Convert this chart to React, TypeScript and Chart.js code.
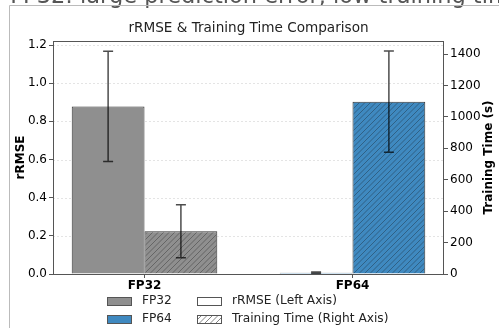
import React, { useEffect, useRef } from 'react';
import { Chart, registerables } from 'chart.js';

Chart.register(...registerables);

// ---- data ----
const categories = ['FP32', 'FP64'];
const rrmseMean = [0.878, 0.007];
const rrmseStd = [0.289, 0.003];
const timeMean = [272, 1097];
const timeStd = [168, 322];
const rrmseTicks = [0, 0.2, 0.4, 0.6, 0.8, 1.0, 1.2];
const timeTicks = [0, 200, 400, 600, 800, 1000, 1200, 1400];
const rrmseMax = 1.221;
const timeMax = 1483;
const xMin = -0.44;
const xMax = 1.44;

const headerLead = 'FP32: ';
const headerRest = 'large prediction error, low training time';
const titleText = 'rRMSE & Training Time Comparison';
const leftAxisTitle = 'rRMSE';
const rightAxisTitle = 'Training Time (s)';
const legendItems = [
  { label: 'FP32', kind: 'fp32' },
  { label: 'FP64', kind: 'fp64' },
  { label: 'rRMSE (Left Axis)', kind: 'plain' },
  { label: 'Training Time (Right Axis)', kind: 'hatch' },
];

// ---- styles ----
const W = 499;
const H = 328;
const FONT = "'DejaVu Sans', sans-serif";
const catColors = ['#8f8f8f', '#3f89c0'];
const edgeColor = '#333333';
const spineColor = '#555555';

function hatchPattern(bg: string, ink: string, lw: number): CanvasPattern {
  const s = 11;
  const c = document.createElement('canvas');
  c.width = s;
  c.height = s;
  const g = c.getContext('2d')!;
  g.fillStyle = bg;
  g.fillRect(0, 0, s, s);
  g.strokeStyle = ink;
  g.lineWidth = lw;
  for (const k of [0, 5.5, 11, 16.5, 22]) {
    g.beginPath();
    g.moveTo(k + 2, -2);
    g.lineTo(-2, k + 2);
    g.stroke();
  }
  return g.createPattern(c, 'repeat')!;
}

const decorations = {
  id: 'decorations',
  beforeDraw(chart: any) {
    const { ctx } = chart;
    ctx.save();
    ctx.fillStyle = '#ffffff';
    ctx.fillRect(0, 0, W, H);

    // heading text running off the top edge
    ctx.fillStyle = '#555555';
    ctx.font = `22.5px ${FONT}`;
    ctx.textAlign = 'left';
    ctx.textBaseline = 'alphabetic';
    const hx = 80 - ctx.measureText(headerLead).width;
    ctx.fillText(headerLead + headerRest, hx, 3);

    // panel frame
    ctx.strokeStyle = '#bbbbbb';
    ctx.lineWidth = 1;
    ctx.beginPath();
    ctx.moveTo(9.5, H);
    ctx.lineTo(9.5, 5.5);
    ctx.lineTo(W, 5.5);
    ctx.stroke();
    ctx.restore();
  },
  beforeDatasetsDraw(chart: any) {
    const { ctx, chartArea } = chart;
    const y = chart.scales.y;
    ctx.save();
    ctx.strokeStyle = '#dddddd';
    ctx.lineWidth = 0.8;
    ctx.setLineDash([2, 2]);
    for (const v of rrmseTicks) {
      const py = Math.round(y.getPixelForValue(v)) + 0.5;
      ctx.beginPath();
      ctx.moveTo(chartArea.left, py);
      ctx.lineTo(chartArea.right, py);
      ctx.stroke();
    }
    ctx.restore();
  },
  afterDatasetsDraw(chart: any) {
    const { ctx, chartArea } = chart;
    ctx.save();
    // error bars
    const groups = [
      { idx: 0, mean: rrmseMean, std: rrmseStd, scale: chart.scales.y },
      { idx: 1, mean: timeMean, std: timeStd, scale: chart.scales.y1 },
    ];
    ctx.strokeStyle = 'rgba(0,0,0,0.7)';
    ctx.lineWidth = 1.5;
    for (const g of groups) {
      const meta = chart.getDatasetMeta(g.idx);
      meta.data.forEach((bar: any, i: number) => {
        const x = bar.x;
        const top = g.scale.getPixelForValue(g.mean[i] + g.std[i]);
        const bot = g.scale.getPixelForValue(Math.max(0, g.mean[i] - g.std[i]));
        ctx.beginPath();
        ctx.moveTo(x, top);
        ctx.lineTo(x, bot);
        ctx.moveTo(x - 5, top);
        ctx.lineTo(x + 5, top);
        ctx.moveTo(x - 5, bot);
        ctx.lineTo(x + 5, bot);
        ctx.stroke();
      });
    }
    // spines
    ctx.strokeStyle = spineColor;
    ctx.lineWidth = 1;
    ctx.strokeRect(
      Math.round(chartArea.left) + 0.5,
      Math.round(chartArea.top) + 0.5,
      Math.round(chartArea.right - chartArea.left) - 1,
      Math.round(chartArea.bottom - chartArea.top)
    );
    ctx.restore();
  },
  afterDraw(chart: any) {
    const { ctx, chartArea } = chart;
    ctx.save();
    const cx = (chartArea.left + chartArea.right) / 2;
    const cy = (chartArea.top + chartArea.bottom) / 2;

    // title
    ctx.fillStyle = '#222222';
    ctx.font = `13.6px ${FONT}`;
    ctx.textAlign = 'center';
    ctx.textBaseline = 'alphabetic';
    ctx.fillText(titleText, cx, 32);

    // axis titles
    ctx.fillStyle = '#000000';
    ctx.font = `bold 12px ${FONT}`;
    ctx.textBaseline = 'middle';
    ctx.save();
    ctx.translate(20.5, cy);
    ctx.rotate(-Math.PI / 2);
    ctx.fillText(leftAxisTitle, 0, 0);
    ctx.restore();
    ctx.save();
    ctx.translate(489, cy);
    ctx.rotate(-Math.PI / 2);
    ctx.fillText(rightAxisTitle, 0, 0);
    ctx.restore();

    // legend
    const rows = [300.5, 319];
    const cols = [{ sw: 107, tx: 142 }, { sw: 197, tx: 232 }];
    ctx.font = `12.2px ${FONT}`;
    ctx.textAlign = 'left';
    ctx.textBaseline = 'middle';
    legendItems.forEach((item, i) => {
      const col = cols[Math.floor(i / 2)];
      const ry = rows[i % 2];
      const sx = col.sw;
      const sy = Math.round(ry - 4) + 0.5;
      let fill: any = '#ffffff';
      if (item.kind === 'fp32') fill = catColors[0];
      else if (item.kind === 'fp64') fill = catColors[1];
      else if (item.kind === 'hatch') fill = hatchPattern('#ffffff', 'rgba(60,60,60,0.8)', 0.8);
      ctx.fillStyle = fill;
      ctx.fillRect(sx, sy, 25, 8);
      ctx.strokeStyle = '#555555';
      ctx.lineWidth = 1;
      ctx.strokeRect(sx + 0.5, sy, 24, 8);
      ctx.fillStyle = '#222222';
      ctx.fillText(item.label, col.tx, ry);
    });
    ctx.restore();
  },
};

export default function App() {
  const ref = useRef<HTMLCanvasElement>(null);

  useEffect(() => {
    const canvas = ref.current!;
    const hatchFills = catColors.map((c) => hatchPattern(c, 'rgba(20,20,20,0.45)', 0.75));
    const tickFont = { family: FONT, size: 12 };

    const chart = new Chart(canvas, {
      type: 'bar',
      data: {
        datasets: [
          {
            label: 'rRMSE',
            yAxisID: 'y',
            data: categories.map((_, i) => ({ x: i, y: rrmseMean[i] })),
            backgroundColor: catColors,
            borderColor: edgeColor,
            borderWidth: 1,
            categoryPercentage: 0.7,
            barPercentage: 1,
          },
          {
            label: 'Training Time',
            yAxisID: 'y1',
            data: categories.map((_, i) => ({ x: i, y: timeMean[i] })),
            backgroundColor: hatchFills,
            borderColor: edgeColor,
            borderWidth: 1,
            categoryPercentage: 0.7,
            barPercentage: 1,
          },
        ],
      } as any,
      options: {
        responsive: false,
        animation: false,
        devicePixelRatio: 1,
        layout: { padding: { top: 41, left: 0, right: 0, bottom: 0 } },
        plugins: {
          legend: { display: false },
          title: { display: false },
          tooltip: { enabled: false },
        },
        scales: {
          x: {
            type: 'linear',
            min: xMin,
            max: xMax,
            offset: false,
            grid: {
              display: true,
              offset: false,
              drawOnChartArea: false,
              drawTicks: true,
              tickLength: 4,
              tickColor: spineColor,
              tickWidth: 1,
            },
            border: { display: false },
            afterBuildTicks: (s: any) => {
              s.ticks = categories.map((_, i) => ({ value: i }));
            },
            afterFit: (s: any) => {
              s.height = 54;
            },
            ticks: {
              callback: (v: any) => categories[v as number] ?? '',
              font: { family: FONT, size: 12, weight: 'bold' },
              color: '#000000',
              padding: 1,
              maxRotation: 0,
              autoSkip: false,
            },
          },
          y: {
            type: 'linear',
            position: 'left',
            min: 0,
            max: rrmseMax,
            grid: {
              display: true,
              drawOnChartArea: false,
              drawTicks: true,
              tickLength: 4,
              tickColor: spineColor,
              tickWidth: 1,
            },
            border: { display: false },
            afterBuildTicks: (s: any) => {
              s.ticks = rrmseTicks.map((v) => ({ value: v }));
            },
            afterFit: (s: any) => {
              s.width = 53;
            },
            ticks: {
              callback: (v: any) => Number(v).toFixed(1),
              font: tickFont,
              color: '#000000',
              padding: 2,
            },
          },
          y1: {
            type: 'linear',
            position: 'right',
            min: 0,
            max: timeMax,
            grid: {
              display: true,
              drawOnChartArea: false,
              drawTicks: true,
              tickLength: 4,
              tickColor: spineColor,
              tickWidth: 1,
            },
            border: { display: false },
            afterBuildTicks: (s: any) => {
              s.ticks = timeTicks.map((v) => ({ value: v }));
            },
            afterFit: (s: any) => {
              s.width = 55;
            },
            ticks: {
              callback: (v: any) => String(v),
              font: tickFont,
              color: '#000000',
              padding: 2,
            },
          },
        },
      } as any,
      plugins: [decorations],
    });

    return () => chart.destroy();
  }, []);

  return (
    <div style={{ position: 'fixed', left: 0, top: 0, width: W, height: H, background: '#ffffff' }}>
      <canvas ref={ref} width={W} height={H} style={{ display: 'block', width: W, height: H }} />
    </div>
  );
}
